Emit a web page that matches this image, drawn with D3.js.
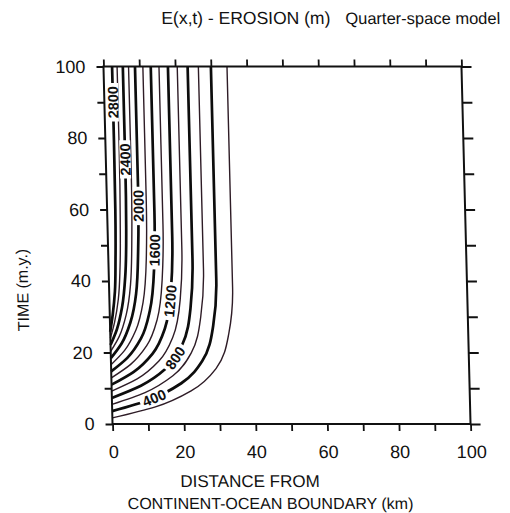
<!DOCTYPE html>
<html>
<head>
<meta charset="utf-8">
<script src="https://cdn.jsdelivr.net/npm/d3@7"></script>
<style>
  body { margin: 0; background: #fff; }
  svg { display: block; font-family: "Liberation Sans", Arial, Helvetica, sans-serif; }
</style>
</head>
<body>
<svg id="chart" width="510" height="513"></svg>
<script>
// contour levels (m of erosion)
const levels = [200, 400, 600, 800, 1000, 1200, 1400, 1600, 1800, 2000, 2200, 2400, 2600, 2800];

// points: [distance km, time m.y.]
const contourPoints = [
  [[0, 1.7], [12.1, 4.8], [22.4, 9.4], [29.3, 15.5], [33.1, 25.2], [34.5, 38.2], [34.5, 100]],
  [[0, 3.6], [10.5, 6.8], [19.5, 11.4], [25.5, 17.6], [28.8, 27.4], [30.0, 40.6], [30.0, 100]],
  [[0, 5.5], [9.3, 8.8], [17.2, 13.5], [22.5, 19.9], [25.4, 30.0], [26.5, 43.5], [26.5, 100]],
  [[0, 7.3], [8.2, 10.7], [15.3, 15.5], [20.0, 22.1], [22.6, 32.4], [23.5, 46.3], [23.5, 100]],
  [[0, 9.2], [7.2, 12.6], [13.4, 17.6], [17.5, 24.4], [19.8, 35.0], [20.6, 49.2], [20.6, 100]],
  [[0, 11.0], [6.3, 14.6], [11.7, 19.7], [15.3, 26.7], [17.3, 37.7], [18.0, 52.5], [18.0, 100]],
  [[0, 12.9], [5.4, 16.6], [10.1, 21.9], [13.2, 29.2], [14.9, 40.6], [15.5, 55.9], [15.5, 100]],
  [[0, 14.7], [4.6, 18.5], [8.6, 24.0], [11.2, 31.6], [12.7, 43.4], [13.2, 59.2], [13.2, 100]],
  [[0, 16.6], [3.9, 20.6], [7.2, 26.3], [9.4, 34.1], [10.6, 46.2], [11.0, 62.6], [11.0, 100]],
  [[0, 18.4], [3.1, 22.5], [5.7, 28.4], [7.5, 36.4], [8.4, 49.0], [8.8, 65.9], [8.8, 100]],
  [[0, 20.3], [2.5, 24.5], [4.6, 30.6], [6.0, 38.9], [6.7, 51.9], [7.0, 69.3], [7.0, 100]],
  [[0, 22.1], [1.9, 26.5], [3.5, 32.7], [4.6, 41.3], [5.2, 54.6], [5.4, 72.6], [5.4, 100]],
  [[0, 24.0], [1.3, 28.5], [2.5, 34.9], [3.2, 43.7], [3.6, 57.5], [3.8, 76.0], [3.8, 100]],
  [[0, 25.8], [0.8, 30.4], [1.6, 37.0], [2.0, 46.1], [2.3, 60.2], [2.4, 79.3], [2.4, 100]]
];

// labelled contours and the time where each label sits
const labelLevels = [400, 800, 1200, 1600, 2000, 2400, 2800];
const labelT = [7.3, 18.5, 34.4, 48.6, 61, 74, 90];

const xTicks = d3.range(0, 101, 10);
const yTicks = d3.range(0, 101, 10);

const svg = d3.select("#chart");
svg.append("rect").attr("width", 510).attr("height", 513).attr("fill", "#fff");

// the scanned figure is slightly sheared
const g = svg.append("g").attr("transform", "translate(0,245) skewX(1.45) translate(0,-245)");

const x = d3.scaleLinear().domain([0, 100]).range([108, 466]);
const y = d3.scaleLinear().domain([0, 100]).range([424, 66.5]);

const line = d3.line()
  .x(d => x(d[0]))
  .y(d => y(d[1]))
  .curve(d3.curveMonotoneY);

const paths = g.append("g").selectAll("path")
  .data(levels)
  .enter()
  .append("path")
  .attr("d", (d, i) => line(contourPoints[i]))
  .attr("fill", "none")
  .attr("stroke", d => d % 400 === 0 ? "#0d0d0d" : "#2e1c26")
  .attr("stroke-width", d => d % 400 === 0 ? 2.7 : 1.4);

// labels along the contours
const labelG = g.append("g");
labelLevels.forEach((lev, i) => {
  const node = paths.filter(d => d === lev).node();
  const total = node.getTotalLength();
  const ty = y(labelT[i]);
  let lo = 0, hi = total;
  for (let k = 0; k < 40; k++) {
    const mid = (lo + hi) / 2;
    if (node.getPointAtLength(mid).y > ty) lo = mid; else hi = mid;
  }
  const L = (lo + hi) / 2;
  const p = node.getPointAtLength(L);
  const a = node.getPointAtLength(Math.max(0, L - 3));
  const b = node.getPointAtLength(Math.min(total, L + 3));
  const ang = Math.atan2(b.y - a.y, b.x - a.x) * 180 / Math.PI;
  const lg = labelG.append("g").attr("transform", `translate(${p.x},${p.y}) rotate(${ang})`);
  const bg = lg.append("rect").attr("fill", "#fff");
  const t = lg.append("text")
    .attr("text-anchor", "middle")
    .attr("dy", "0.36em")
    .attr("font-size", 14.5)
    .attr("font-weight", "bold")
    .attr("fill", "#111")
    .text(lev);
  const w = t.node().getComputedTextLength() + 6;
  bg.attr("x", -w / 2).attr("y", -5.5).attr("width", w).attr("height", 11);
});

// frame
g.append("rect")
  .attr("x", x(0)).attr("y", y(100))
  .attr("width", x(100) - x(0)).attr("height", y(0) - y(100))
  .attr("fill", "none").attr("stroke", "#111").attr("stroke-width", 2);

function styleAxis(sel) {
  sel.select(".domain").remove();
  sel.selectAll(".tick line").attr("stroke", "#111").attr("stroke-width", 1.8);
  sel.selectAll(".tick text").attr("fill", "#111").attr("font-size", 18);
}

g.append("g").attr("transform", `translate(0,${y(0)})`)
  .call(d3.axisBottom(x).tickValues(xTicks).tickSize(7).tickPadding(14)
    .tickFormat(d => d % 20 === 0 ? d : ""))
  .call(styleAxis);

g.append("g").attr("transform", `translate(0,${y(100)})`)
  .call(d3.axisTop(x).tickValues(xTicks).tickSize(7).tickFormat(""))
  .call(styleAxis);

g.append("g").attr("transform", `translate(${x(0)},0)`)
  .call(d3.axisLeft(y).tickValues(yTicks).tickSize(7).tickPadding(11)
    .tickFormat(d => d % 20 === 0 ? d : ""))
  .call(styleAxis);

g.append("g").attr("transform", `translate(${x(100)},0)`)
  .call(d3.axisRight(y).tickValues(yTicks).tickSize(10).tickFormat(""))
  .call(styleAxis);

// titles
g.append("text").attr("x", 167).attr("y", 24)
  .attr("font-size", 17.5).attr("fill", "#111")
  .text("E(x,t) - EROSION (m)");
g.append("text").attr("x", 506).attr("y", 24).attr("text-anchor", "end")
  .attr("font-size", 16.5).attr("fill", "#111")
  .text("Quarter-space model");

g.append("text")
  .attr("transform", "translate(27,290) rotate(-90)")
  .attr("text-anchor", "middle")
  .attr("font-size", 16).attr("fill", "#111")
  .text("TIME (m.y.)");

g.append("text").attr("x", 244).attr("y", 487).attr("text-anchor", "middle")
  .attr("font-size", 17).attr("fill", "#111")
  .text("DISTANCE FROM");
g.append("text").attr("x", 264).attr("y", 509).attr("text-anchor", "middle")
  .attr("font-size", 16).attr("fill", "#111")
  .text("CONTINENT-OCEAN BOUNDARY (km)");
</script>
</body>
</html>
